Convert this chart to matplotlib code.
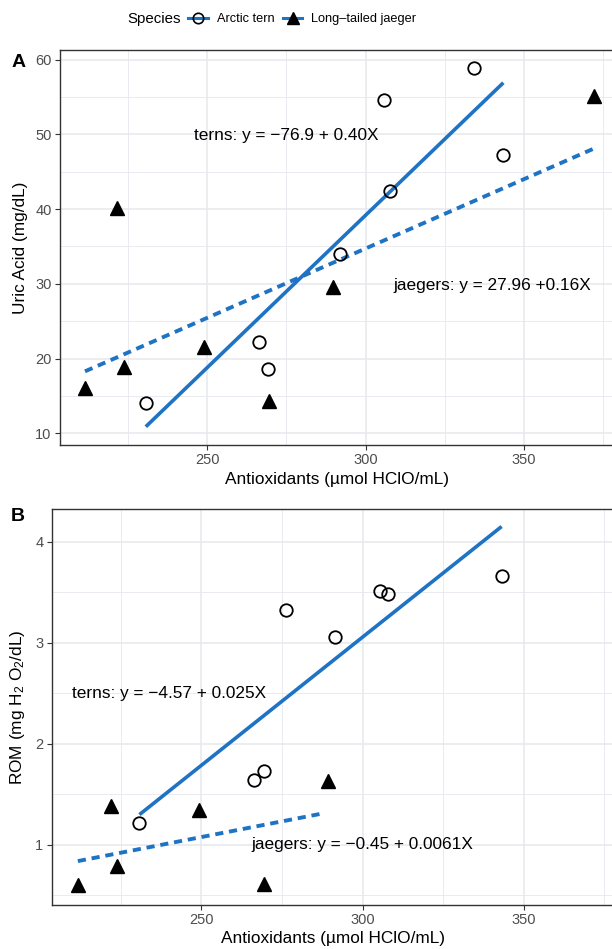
import numpy as np
import matplotlib
matplotlib.use("Agg")
import matplotlib.pyplot as plt
from matplotlib.lines import Line2D

plt.rcParams['font.family'] = ['Liberation Sans', 'DejaVu Sans']
plt.rcParams['mathtext.default'] = 'regular'

# panel A: uric acid vs antioxidants
tern_ax_a = [230.6, 266.2, 269.3, 291.8, 307.7, 305.9, 334.2, 343.5]
tern_ua = [14.1, 22.2, 18.6, 34.0, 42.4, 54.6, 58.9, 47.3]
jaeg_ax_a = [211.4, 221.4, 223.7, 249.1, 269.4, 289.7, 372.1]
jaeg_ua = [16.1, 40.1, 18.9, 21.6, 14.4, 29.6, 55.1]
# fitted lines (end points)
tern_fit_a_x = [230.6, 343.5]
tern_fit_a_y = [10.9, 56.9]
jaeg_fit_a_x = [211.4, 372.1]
jaeg_fit_a_y = [18.3, 48.1]

# panel B: ROM vs antioxidants
tern_ax_b = [230.8, 266.3, 269.4, 276.3, 291.4, 305.5, 307.9, 343.1]
tern_rom = [1.22, 1.64, 1.73, 3.32, 3.06, 3.51, 3.48, 3.66]
jaeg_ax_b = [211.7, 221.9, 223.7, 249.2, 269.4, 289.4]
jaeg_rom = [0.60, 1.39, 0.79, 1.35, 0.61, 1.63]
tern_fit_b_x = [230.8, 343.1]
tern_fit_b_y = [1.30, 4.15]
jaeg_fit_b_x = [211.7, 287.4]
jaeg_fit_b_y = [0.84, 1.31]

blue = '#1f73c4'
grid_col = '#e6e8ee'

fig = plt.figure(figsize=(6.12, 9.49), dpi=100)
fig.patch.set_facecolor('white')

def style(ax, xlim, ylim, yticks, yminor):
    ax.set_xlim(*xlim)
    ax.set_ylim(*ylim)
    ax.set_xticks([250, 300, 350])
    ax.set_xticks([225, 275, 325, 375], minor=True)
    ax.set_yticks(yticks)
    ax.set_yticks(yminor, minor=True)
    ax.grid(which='major', color=grid_col, lw=1.1)
    ax.grid(which='minor', color=grid_col, lw=0.6)
    ax.set_axisbelow(True)
    ax.tick_params(which='minor', length=0)
    ax.tick_params(which='major', length=3.5, color='#333333', labelsize=10.5,
                   labelcolor='#4d4d4d', pad=2.5)
    for s in ax.spines.values():
        s.set_color('#333333')
        s.set_linewidth(1.0)

def draw(ax, tx, ty, jx, jy, tfx, tfy, jfx, jfy):
    ax.plot(tfx, tfy, color=blue, lw=2.6, solid_capstyle='butt', zorder=2)
    ax.plot(jfx, jfy, color=blue, lw=2.8, ls=(0, (2.1, 1.5)), zorder=2)
    ax.plot(tx, ty, ls='none', marker='o', ms=9, mfc='none', mec='black', mew=1.3, zorder=3)
    ax.plot(jx, jy, ls='none', marker='^', ms=10, mfc='black', mec='black', zorder=3)

axA = fig.add_axes([0.098, 0.531, 0.904, 0.416])
draw(axA, tern_ax_a, tern_ua, jaeg_ax_a, jaeg_ua,
     tern_fit_a_x, tern_fit_a_y, jaeg_fit_a_x, jaeg_fit_a_y)
style(axA, (203.5, 378.2), (8.44, 61.24), [10, 20, 30, 40, 50, 60], [15, 25, 35, 45, 55])
axA.set_xlabel('Antioxidants (µmol HClO/mL)', fontsize=12.4, labelpad=3)
axA.set_ylabel('Uric Acid (mg/dL)', fontsize=12.4, labelpad=5)
axA.text(245.9, 49.8, 'terns: y = \u221276.9 + 0.40X', fontsize=12.4, va='center', ha='left')
axA.text(308.7, 29.8, 'jaegers: y = 27.96 +0.16X', fontsize=12.4, va='center', ha='left')

axB = fig.add_axes([0.0845, 0.0464, 0.918, 0.4169])
draw(axB, tern_ax_b, tern_rom, jaeg_ax_b, jaeg_rom,
     tern_fit_b_x, tern_fit_b_y, jaeg_fit_b_x, jaeg_fit_b_y)
style(axB, (203.6, 377.8), (0.406, 4.32), [1, 2, 3, 4], [0.5, 1.5, 2.5, 3.5])
axB.set_xlabel('Antioxidants (µmol HClO/mL)', fontsize=12.4, labelpad=3)
axB.set_ylabel('ROM (mg H$_2$ O$_2$/dL)', fontsize=12.4, labelpad=6)
axB.text(209.8, 2.50, 'terns: y = \u22124.57 + 0.025X', fontsize=12.4, va='center', ha='left')
axB.text(265.4, 1.0, 'jaegers: y = \u22120.45 + 0.0061X', fontsize=12.4, va='center', ha='left')

fig.text(0.018, 0.934, 'A', fontsize=14, fontweight='bold', va='center')
fig.text(0.018, 0.456, 'B', fontsize=14, fontweight='bold', va='center')

# legend across the top
fig.text(0.2075, 0.980, 'Species', fontsize=10.8, va='center', ha='left')
handles = [
    Line2D([], [], color=blue, lw=2.2, marker='o', ms=7.5, mfc='none', mec='black', mew=1.2),
    Line2D([], [], color=blue, lw=2.2, marker='^', ms=8.5, mfc='black', mec='black'),
]
fig.legend(handles, ['Arctic tern', 'Long\u2013tailed jaeger'], loc='center left',
           bbox_to_anchor=(0.308, 0.980), ncol=2, frameon=False, fontsize=9.2,
           handlelength=1.5, handletextpad=0.7, columnspacing=0.7,
           borderaxespad=0, borderpad=0)

fig.savefig('out.png', dpi=100, facecolor='white')
